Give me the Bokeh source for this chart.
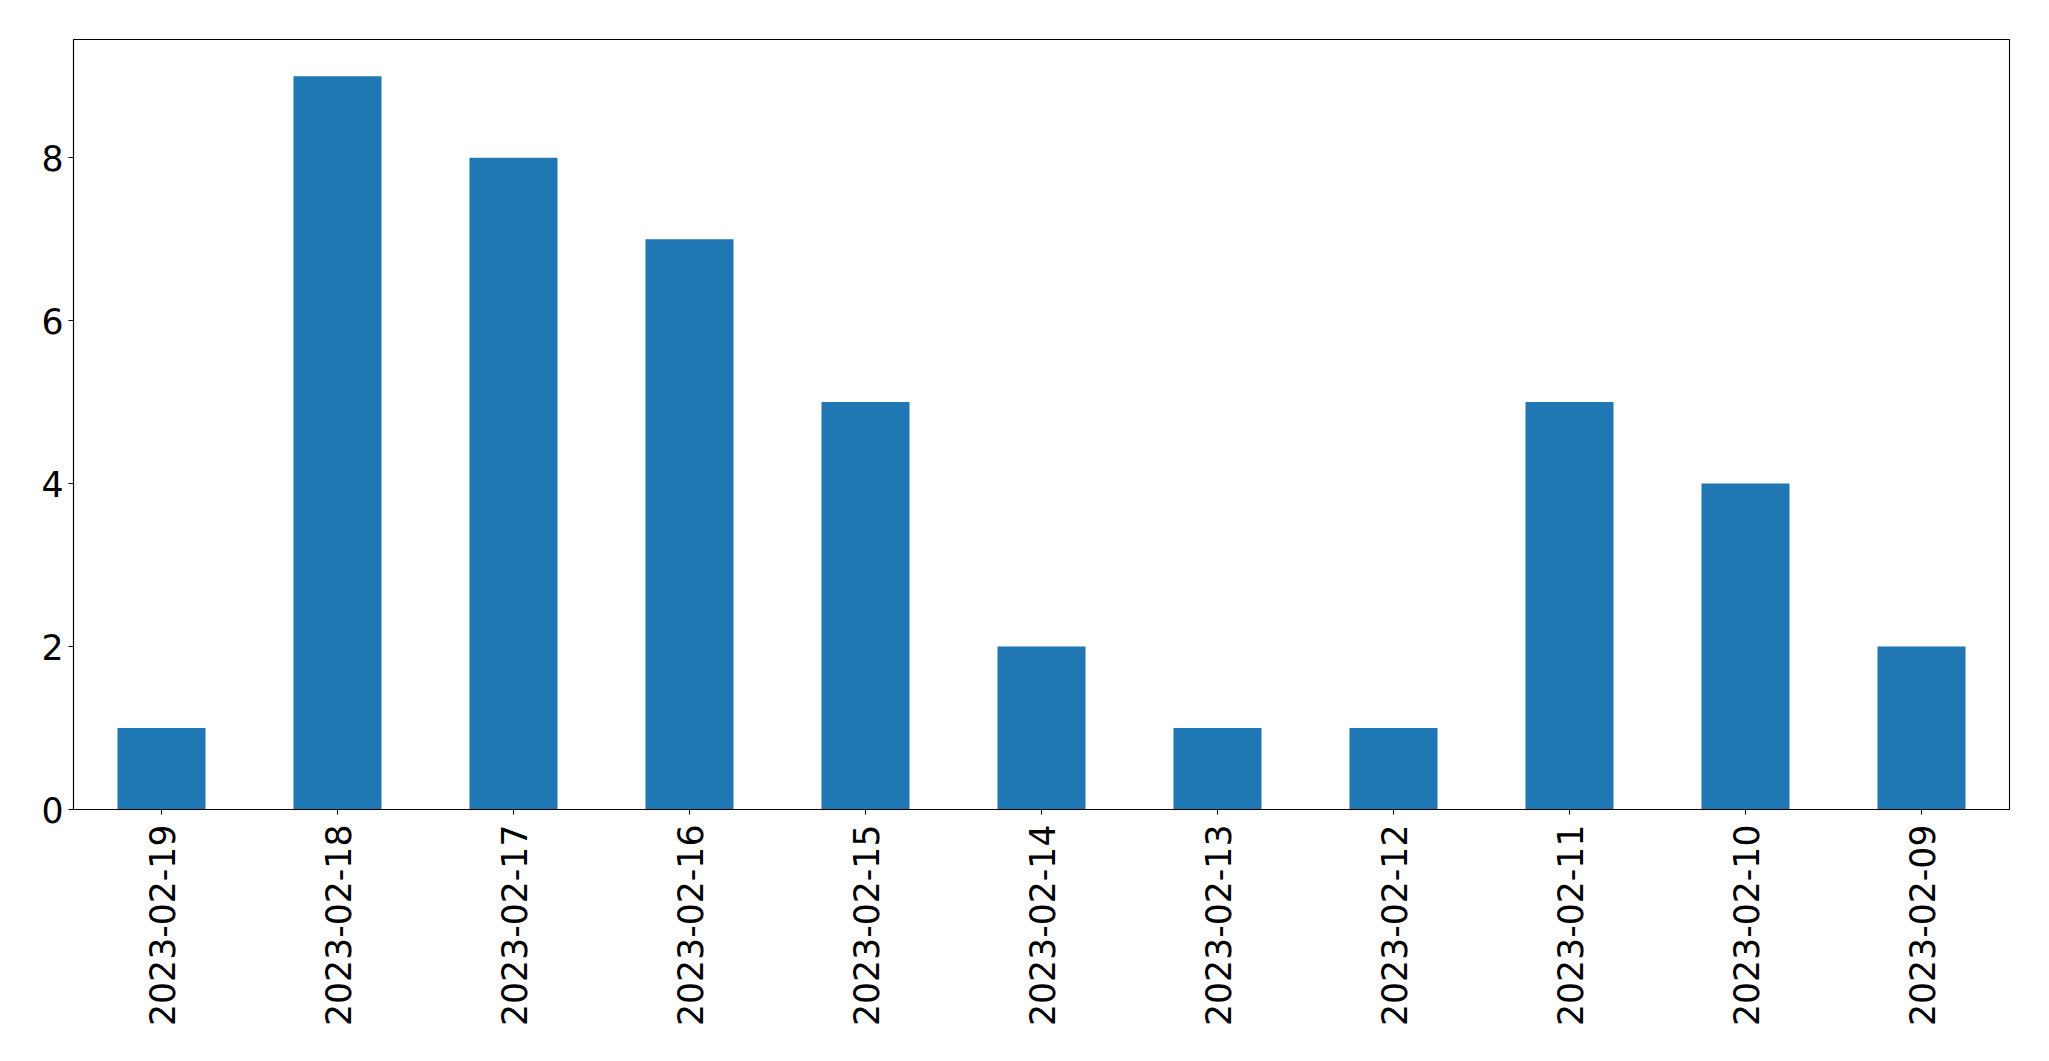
import math
from bokeh.plotting import figure
from bokeh.models import FactorRange, Range1d, FixedTicker, ColumnDataSource
from bokeh.embed import file_html
from bokeh.resources import INLINE

dates = ["2023-02-19", "2023-02-18", "2023-02-17", "2023-02-16", "2023-02-15",
         "2023-02-14", "2023-02-13", "2023-02-12", "2023-02-11", "2023-02-10",
         "2023-02-09"]
counts = [1, 9, 8, 7, 5, 2, 1, 1, 5, 4, 2]
y_ticks = [0, 2, 4, 6, 8]

source = ColumnDataSource(data=dict(date=dates, count=counts))

p = figure(
    width=2041, height=1048,
    x_range=FactorRange(factors=dates, range_padding=0),
    y_range=Range1d(0, max(counts) * 1.05),
    output_backend="svg", toolbar_location=None,
    min_border_left=73, min_border_right=32,
    min_border_top=39, min_border_bottom=239,
)

p.vbar(x="date", top="count", width=0.5, source=source,
       fill_color="#1f77b4", line_color=None)

p.xgrid.visible = False
p.ygrid.visible = False
p.outline_line_color = "black"
p.outline_line_width = 1.1
p.outline_line_alpha = 1.0

font = "DejaVu Sans"
for ax in (p.xaxis[0], p.yaxis[0]):
    ax.axis_line_color = "black"
    ax.axis_line_width = 1.1
    ax.major_tick_line_color = "black"
    ax.major_tick_line_width = 1.1
    ax.major_tick_out = 5
    ax.major_tick_in = 0
    ax.minor_tick_line_color = None
    ax.major_label_text_font = font
    ax.major_label_text_font_size = "34.7px"
    ax.major_label_text_color = "black"

p.yaxis[0].ticker = FixedTicker(ticks=y_ticks)
p.yaxis[0].major_label_standoff = 5
p.xaxis[0].major_label_orientation = math.pi / 2
p.xaxis[0].major_label_standoff = 10
p.xaxis[0].group_text_font_size = "0px"

open("out.html", "w").write(file_html(p, INLINE))
